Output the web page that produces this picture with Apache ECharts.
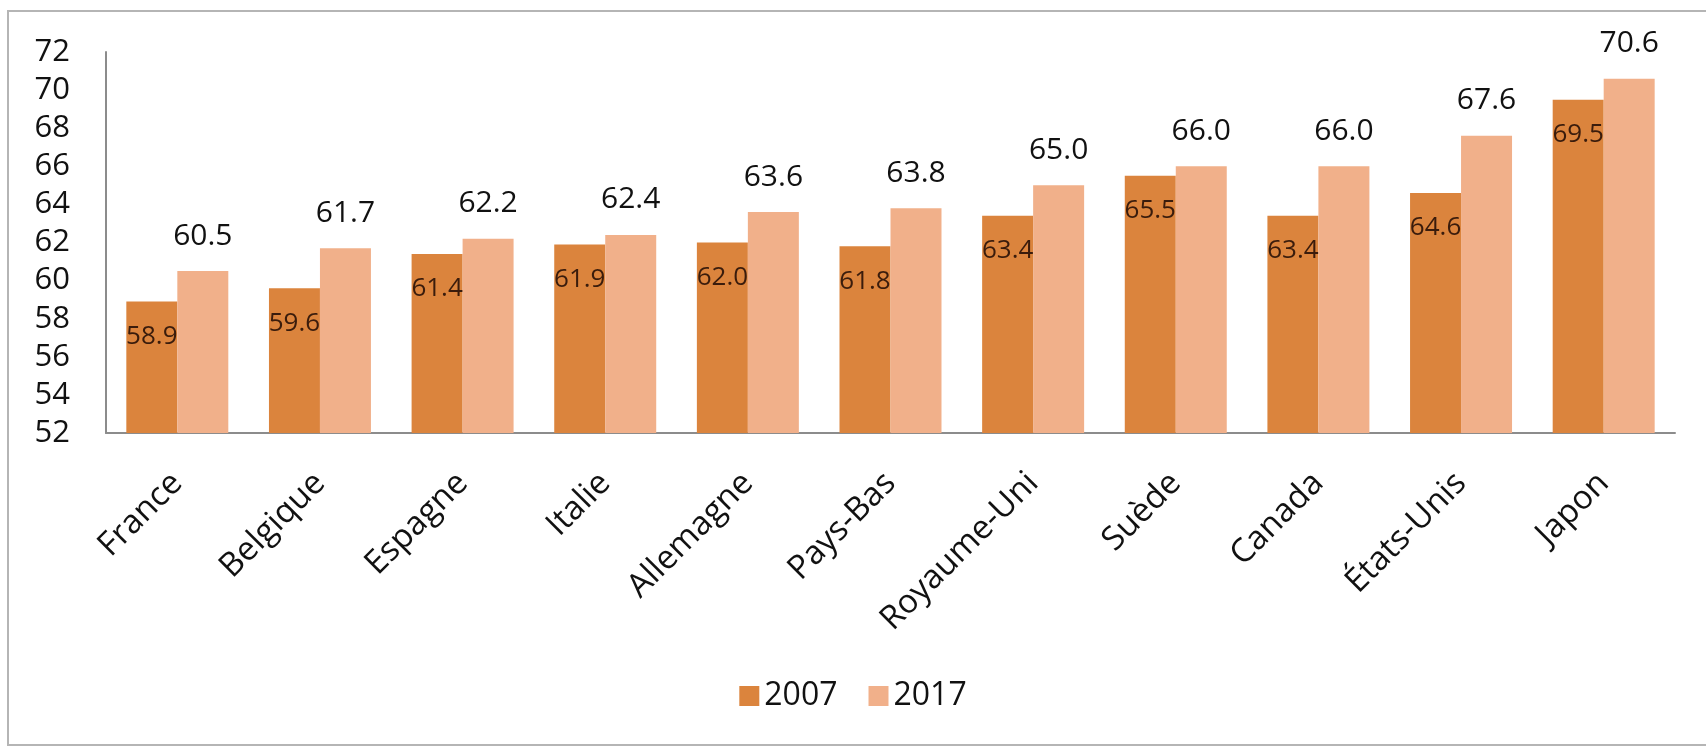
<!DOCTYPE html>
<html>
<head>
<meta charset="utf-8">
<script src="https://cdn.jsdelivr.net/npm/echarts@6/dist/echarts.min.js"></script>
<style>
  html, body { margin: 0; padding: 0; background: #fff; overflow: hidden; }
  #chart { width: 1706px; height: 747px; }
</style>
</head>
<body>
<div id="chart"></div>
<script>
// pays
const pays = ['France', 'Belgique', 'Espagne', 'Italie', 'Allemagne', 'Pays-Bas',
  'Royaume-Uni', 'Suède', 'Canada', 'États-Unis', 'Japon'];
// valeurs 2007 / 2017
const v2007 = [58.9, 59.6, 61.4, 61.9, 62.0, 61.8, 63.4, 65.5, 63.4, 64.6, 69.5];
const v2017 = [60.5, 61.7, 62.2, 62.4, 63.6, 63.8, 65.0, 66.0, 66.0, 67.6, 70.6];
const yMin = 52, yMax = 72, yStep = 2;

const font = '"Open Sans", "Noto Sans", sans-serif';
let chart = echarts.init(document.getElementById('chart'));

chart.setOption({
  animation: false,
  textStyle: { fontFamily: font },
  // cadre gris autour du graphique
  graphic: [{
    type: 'rect',
    shape: { x: 8, y: 11, width: 1800, height: 734 },
    style: { fill: 'none', stroke: '#b5b5b5', lineWidth: 2 },
    silent: true
  }],
  legend: {
    data: ['2007', '2017'],
    bottom: 30,
    left: 'center',
    icon: 'rect',
    itemWidth: 20,
    itemHeight: 20,
    itemGap: 31,
    textStyle: { fontSize: 32, color: '#111', fontFamily: font }
  },
  grid: { left: 106, right: 31, top: 52, bottom: 314, containLabel: false },
  xAxis: {
    type: 'category',
    data: pays,
    axisLine: { lineStyle: { color: '#8c8c8c', width: 2 } },
    axisTick: { show: false },
    axisLabel: {
      rotate: 45,
      margin: 45,
      interval: 0,
      fontSize: 33,
      color: '#111',
      fontFamily: font
    }
  },
  yAxis: {
    type: 'value',
    min: yMin,
    max: yMax,
    interval: yStep,
    splitLine: { show: false },
    axisLine: { show: true, lineStyle: { color: '#8c8c8c', width: 2 } },
    axisTick: { show: false },
    axisLabel: { fontSize: 31, color: '#111', margin: 36, fontFamily: font }
  },
  series: [
    {
      name: '2007',
      type: 'bar',
      data: v2007,
      barGap: '0%',
      barCategoryGap: '28.5%',
      itemStyle: { color: '#db843d' },
      label: {
        show: true,
        position: 'insideTop',
        distance: 22,
        fontSize: 26,
        color: '#3a1c0c',
        fontFamily: font,
        formatter: p => p.value.toFixed(1)
      }
    },
    {
      name: '2017',
      type: 'bar',
      data: v2017,
      itemStyle: { color: '#f1b08a' },
      label: {
        show: true,
        position: 'top',
        distance: 20,
        fontSize: 30,
        color: '#111',
        fontFamily: font,
        formatter: p => p.value.toFixed(1)
      }
    }
  ]
});
</script>
</body>
</html>
